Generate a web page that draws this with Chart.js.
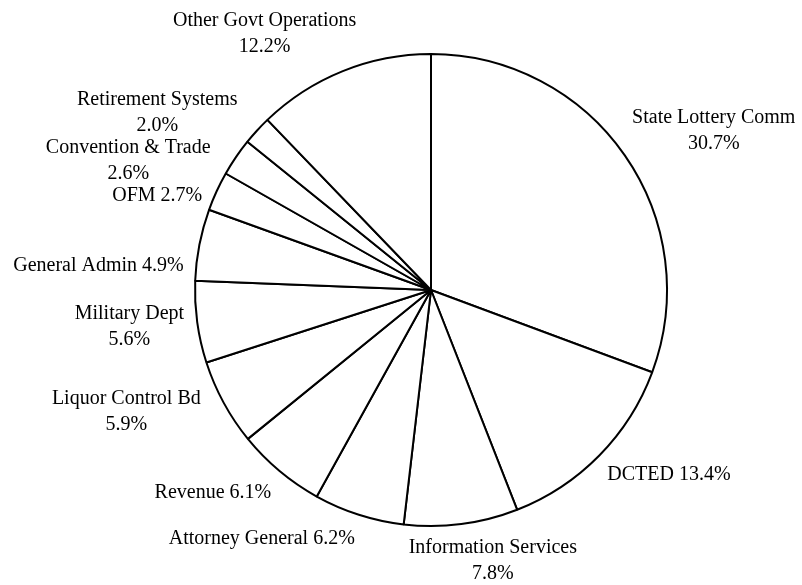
<!DOCTYPE html>
<html>
<head>
<meta charset="utf-8">
<script src="https://cdn.jsdelivr.net/npm/chart.js@4/dist/chart.umd.min.js"></script>
<style>
  html, body { margin: 0; padding: 0; background: #fff; }
  #pieChart { display: block; }
</style>
</head>
<body>
<canvas id="pieChart" width="802" height="585"></canvas>
<script>
// données
const categories = [
  "State Lottery Comm", "DCTED", "Information Services", "Attorney General",
  "Revenue", "Liquor Control Bd", "Military Dept", "General Admin",
  "OFM", "Convention & Trade", "Retirement Systems", "Other Govt Operations"
];
const shares = [30.7, 13.4, 7.8, 6.2, 6.1, 5.9, 5.6, 4.9, 2.7, 2.6, 2.0, 12.2];

// placement des étiquettes, en rayons depuis le centre
const labelLayout = [
  { dx: 1.198, dy: -0.675, twoLines: true },
  { dx: 1.008, dy: 0.781, twoLines: false },
  { dx: 0.262, dy: 1.148, twoLines: true },
  { dx: -0.717, dy: 1.055, twoLines: false },
  { dx: -0.924, dy: 0.861, twoLines: false },
  { dx: -1.291, dy: 0.515, twoLines: true },
  { dx: -1.278, dy: 0.156, twoLines: true },
  { dx: -1.409, dy: -0.101, twoLines: false },
  { dx: -1.160, dy: -0.401, twoLines: false },
  { dx: -1.283, dy: -0.549, twoLines: true },
  { dx: -1.160, dy: -0.751, twoLines: true },
  { dx: -0.705, dy: -1.084, twoLines: true }
];

const outsideLabels = {
  id: "outsideLabels",
  afterDraw(chart) {
    const ctx = chart.ctx;
    const arcs = chart.getDatasetMeta(0).data;
    ctx.save();
    ctx.font = "20px 'Liberation Serif', 'Times New Roman', serif";
    ctx.fillStyle = "#000";
    ctx.textAlign = "center";
    ctx.textBaseline = "middle";
    arcs.forEach((arc, i) => {
      const { x, y, outerRadius } = arc.getProps(["x", "y", "outerRadius"], true);
      const lay = labelLayout[i];
      const cx = x + lay.dx * outerRadius;
      const cy = y + lay.dy * outerRadius;
      const pct = shares[i].toFixed(1) + "%";
      if (lay.twoLines) {
        ctx.fillText(categories[i], cx, cy - 13);
        ctx.fillText(pct, cx, cy + 13);
      } else {
        ctx.fillText(categories[i] + " " + pct, cx, cy);
      }
    });
    ctx.restore();
  }
};

new Chart(document.querySelector("#pieChart").getContext("2d"), {
  type: "pie",
  data: {
    labels: categories,
    datasets: [{
      data: shares,
      backgroundColor: "#fff",
      borderColor: "#000",
      borderWidth: 2
    }]
  },
  options: {
    responsive: false,
    animation: false,
    layout: { padding: { top: 53, bottom: 58, left: 194, right: 134 } },
    plugins: {
      legend: { display: false },
      tooltip: { enabled: false }
    }
  },
  plugins: [outsideLabels]
});
</script>
</body>
</html>
